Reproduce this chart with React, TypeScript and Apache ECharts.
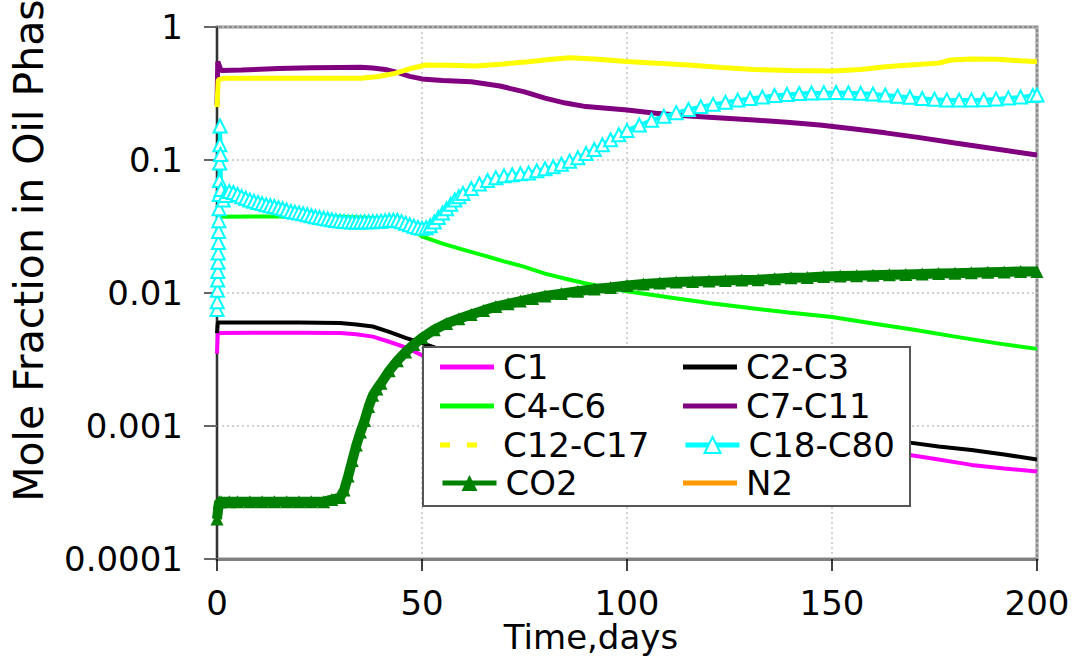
import React, { useEffect, useRef } from "react";
import * as echarts from "echarts";

// ---- data ----
const xTickValues = [0, 50, 100, 150, 200];
const yTickLabels = ["0.0001", "0.001", "0.01", "0.1", "1"];
const seriesNames = ["C1", "C2-C3", "C4-C6", "C7-C11", "C12-C17", "C18-C80", "CO2", "N2"];
const seriesColors = ["#ff00ff", "#000000", "#00ff00", "#800080", "#ffff00", "#00ffff", "#008000", "#ff9900"];

const c1Data = [[0,0.0035],[0.2,0.005],[10,0.00502],[20,0.00502],[30,0.005],[34,0.0049],[38,0.0047],[42,0.0043],[46,0.0039],[50,0.0034],[55,0.003],[60,0.0026],[70,0.002],[80,0.0016],[90,0.0014],[100,0.0012],[120,0.00095],[140,0.0008],[155,0.0007],[169,0.000605],[176,0.00056],[184,0.00051],[192,0.00048],[200,0.000454]];
const c2c3Data = [[0,0.005],[0.2,0.006],[10,0.006],[20,0.006],[30,0.00595],[34,0.0058],[38,0.0056],[42,0.0051],[46,0.0046],[50,0.0042],[60,0.0033],[70,0.0025],[80,0.002],[90,0.0016],[100,0.0014],[120,0.0011],[140,0.00092],[155,0.00083],[169,0.00075],[176,0.0007],[184,0.00066],[192,0.00061],[200,0.00056]];
const c4c6Data = [[0.5,0.0375],[10,0.0376],[20,0.0376],[30,0.0375],[40,0.0365],[44,0.0354],[47,0.031],[50,0.0267],[55,0.0235],[60,0.0212],[65,0.0192],[70,0.0173],[75,0.0157],[80,0.014],[85,0.0128],[90,0.0118],[95,0.011],[100,0.0103],[110,0.0093],[120,0.0084],[130,0.0077],[140,0.0071],[150,0.0066],[160,0.0059],[170,0.0053],[180,0.0047],[190,0.0042],[200,0.0038]];
const c7c11Data = [[0,0.26],[0.2,0.55],[1,0.47],[6,0.475],[15,0.488],[23,0.494],[30,0.497],[35,0.498],[38,0.492],[41,0.479],[44,0.455],[47,0.425],[50,0.407],[55,0.396],[62,0.388],[69,0.36],[75,0.325],[80,0.292],[85,0.268],[90,0.252],[95,0.245],[100,0.238],[107,0.225],[115,0.214],[123,0.207],[131,0.2],[139,0.192],[147,0.183],[155,0.172],[163,0.16],[171,0.148],[180,0.134],[190,0.121],[200,0.109]];
const c12c17Data = [[0,0.25],[0.3,0.4],[1.5,0.411],[10,0.411],[20,0.411],[30,0.411],[35,0.412],[39,0.423],[43,0.445],[47,0.485],[51,0.518],[57,0.515],[63,0.509],[70,0.528],[76,0.548],[81,0.57],[86,0.588],[92,0.575],[100,0.55],[107,0.535],[115,0.517],[123,0.497],[131,0.48],[140,0.47],[150,0.467],[157,0.48],[163,0.503],[170,0.52],[176,0.535],[179,0.565],[184,0.575],[190,0.572],[195,0.56],[200,0.548]];
const c18c80Data = [[0,0.0075],[0.05,0.0086],[0.1,0.0105],[0.15,0.0125],[0.2,0.0145],[0.25,0.017],[0.3,0.02],[0.35,0.024],[0.4,0.029],[0.45,0.035],[0.5,0.043],[0.55,0.055],[0.6,0.07],[0.65,0.095],[0.7,0.13],[0.75,0.18],[0.85,0.11],[1,0.06],[1.5,0.05],[2,0.054],[3,0.058],[4,0.057],[5,0.055],[6,0.053],[7,0.0515],[8,0.05],[9,0.049],[10,0.048],[11,0.047],[12,0.046],[13,0.0453],[14,0.0447],[15,0.0438],[16,0.043],[17,0.042],[18,0.041],[19,0.0405],[20,0.04],[21,0.0394],[22,0.0388],[23,0.0381],[24,0.0375],[25,0.037],[26,0.0365],[27,0.036],[28,0.0355],[29,0.0351],[30,0.0348],[31,0.0345],[32,0.0343],[33,0.0342],[34,0.0342],[35,0.0342],[36,0.0343],[37,0.0343],[38,0.0344],[39,0.0345],[40,0.0347],[41,0.035],[42,0.0352],[43,0.0353],[44,0.0352],[45,0.0344],[46,0.0335],[47,0.0326],[48,0.0318],[49,0.0311],[50,0.0307],[51,0.031],[52,0.032],[53,0.0342],[54,0.037],[55,0.04],[56,0.043],[57,0.0465],[58,0.05],[59,0.053],[60,0.056],[62,0.061],[64,0.066],[66,0.07],[68,0.0735],[70,0.076],[72,0.0775],[74,0.0788],[76,0.08],[78,0.083],[80,0.086],[82,0.089],[84,0.093],[86,0.098],[88,0.104],[90,0.112],[92,0.12],[94,0.13],[96,0.142],[98,0.155],[100,0.167],[103,0.183],[106,0.199],[109,0.213],[112,0.227],[115,0.24],[118,0.252],[121,0.262],[124,0.272],[127,0.282],[130,0.29],[133,0.298],[136,0.305],[139,0.311],[142,0.316],[145,0.319],[148,0.321],[151,0.322],[154,0.32],[157,0.317],[160,0.313],[163,0.308],[166,0.302],[169,0.296],[172,0.29],[175,0.286],[178,0.283],[181,0.282],[184,0.283],[187,0.284],[190,0.288],[193,0.293],[196,0.298],[199,0.305],[200,0.308]];
const co2Data = [[0,0.0002],[0.5,0.00027],[1,0.00027],[3,0.00027],[5,0.00027],[8,0.00027],[11,0.00027],[14,0.00027],[17,0.00027],[20,0.00027],[23,0.00027],[26,0.00027],[28,0.00028],[30,0.00029],[31,0.00033],[32,0.00042],[33,0.00055],[34,0.00072],[35,0.0009],[36,0.0011],[37,0.0014],[38,0.0017],[39,0.0019],[40,0.0021],[42,0.0026],[44,0.0031],[46,0.0036],[48,0.0041],[50,0.0046],[53,0.0053],[56,0.0059],[59,0.0064],[62,0.0069],[65,0.0074],[68,0.0079],[71,0.0083],[74,0.0087],[77,0.0091],[80,0.0095],[84,0.0099],[88,0.0103],[92,0.0107],[96,0.011],[100,0.0114],[104,0.0117],[108,0.0119],[112,0.0121],[116,0.0122],[120,0.0123],[124,0.0124],[128,0.0125],[132,0.0126],[136,0.0128],[140,0.013],[144,0.0131],[148,0.0133],[152,0.0134],[156,0.0135],[160,0.0136],[164,0.0137],[168,0.0138],[172,0.0139],[176,0.014],[180,0.0141],[184,0.0142],[188,0.0143],[192,0.0144],[196,0.0145],[200,0.0145]];
const n2Data: number[][] = [];

const xAxisTitle = "Time,days";
const yAxisTitle = "Mole Fraction in Oil Phase";

const FONT = "'DejaVu Sans', Arial, sans-serif";

export default function App() {
  const ref = useRef<HTMLDivElement>(null);

  useEffect(() => {
    if (!ref.current) return;
    const chart = echarts.init(ref.current, undefined, { renderer: "svg" });

    const dataByName: Record<string, number[][]> = {
      "C1": c1Data,
      "C2-C3": c2c3Data,
      "C4-C6": c4c6Data,
      "C7-C11": c7c11Data,
      "C12-C17": c12c17Data,
      "C18-C80": c18c80Data,
      "CO2": co2Data,
      "N2": n2Data,
    };

    const lineWidths: Record<string, number> = {
      "C1": 4, "C2-C3": 4, "C4-C6": 4, "C7-C11": 5, "C12-C17": 5, "C18-C80": 4, "CO2": 10, "N2": 4,
    };

    const series = seriesNames.map((name, i) => {
      const base: any = {
        type: "line",
        name,
        data: dataByName[name],
        color: seriesColors[i],
        lineStyle: { width: lineWidths[name], color: seriesColors[i] },
        itemStyle: { color: seriesColors[i] },
        symbol: "none",
        showSymbol: false,
        clip: true,
        silent: true,
        z: 3,
        emphasis: { disabled: true },
      };
      if (name === "C18-C80") {
        base.symbol = "emptyTriangle";
        base.showSymbol = true;
        base.symbolSize = 13;
        base.itemStyle = { color: seriesColors[i], borderColor: seriesColors[i], borderWidth: 1.5 };
      }
      if (name === "CO2") {
        base.symbol = "triangle";
        base.showSymbol = true;
        base.symbolSize = 13;
      }
      return base;
    });

    const col1 = ["C1", "C4-C6", "C12-C17", "CO2"];
    const col2 = ["C2-C3", "C7-C11", "C18-C80", "N2"];
    const rowCenters = [367, 406, 445, 483];
    const colLefts = [440, 683];

    const makeLegend = (name: string, left: number, cy: number) => {
      const lg: any = {
        show: true,
        data: [name],
        left,
        top: cy - 17,
        orient: "horizontal",
        padding: 0,
        itemWidth: 54,
        itemHeight: 5,
        selectedMode: false,
        z: 10,
        textStyle: { fontFamily: FONT, fontSize: 34, color: "#000", lineHeight: 34, padding: [0, 0, 0, 4] },
        lineStyle: { width: 5 },
      };
      if (name === "C18-C80" || name === "CO2") {
        lg.itemHeight = 20;
      } else if (name === "C12-C17") {
        lg.icon = "path://M0,0h10v5h-10z M27,0h10v5h-10z M53.9,0h0.1v5h-0.1z";
      } else {
        lg.icon = "rect";
      }
      return lg;
    };

    const legends: any[] = [];
    col1.forEach((n, r) => legends.push(makeLegend(n, colLefts[0], rowCenters[r])));
    col2.forEach((n, r) => legends.push(makeLegend(n, colLefts[1], rowCenters[r])));

    const option: any = {
      animation: false,
      backgroundColor: "#ffffff",
      grid: {
        left: 217,
        right: 40,
        top: 27,
        bottom: 98,
        show: true,
        borderColor: "#8c8c8c",
        borderWidth: 3,
        backgroundColor: "transparent",
        containLabel: false,
        outerBoundsMode: "none",
      },
      xAxis: {
        type: "value",
        min: xTickValues[0],
        max: xTickValues[xTickValues.length - 1],
        interval: xTickValues[1] - xTickValues[0],
        axisLine: { show: true, lineStyle: { color: "#808080", width: 3 } },
        axisTick: { show: true, inside: false, length: 12, lineStyle: { color: "#000", width: 1.5 } },
        axisLabel: {
          show: true, margin: 27, color: "#000", fontFamily: FONT, fontSize: 34, lineHeight: 34,
          showMinLabel: true, showMaxLabel: true,
        },
        splitLine: { show: true, lineStyle: { color: "#c4c4c4", width: 1.5, type: [2, 3] } },
      },
      yAxis: {
        type: "log",
        logBase: 10,
        min: 0.0001,
        max: 1,
        axisLine: { show: true, onZero: false, lineStyle: { color: "#333", width: 2 } },
        axisTick: { show: true, inside: false, length: 13, lineStyle: { color: "#666", width: 2 } },
        axisLabel: {
          show: true, margin: 34, color: "#000", fontFamily: FONT, fontSize: 34,
          padding: [0, 0, 10, 0],
          showMinLabel: true, showMaxLabel: true,
          formatter: (v: number) => {
            const k = Math.round(Math.log10(v)) + 4;
            return yTickLabels[k] ?? "";
          },
        },
        splitLine: { show: true, lineStyle: { color: "#c4c4c4", width: 1.5, type: [2, 3] } },
      },
      legend: legends,
      graphic: [
        {
          type: "rect",
          z: 8,
          shape: { x: 423, y: 347, width: 487, height: 159 },
          style: { fill: "#ffffff", stroke: "#555555", lineWidth: 2 },
          silent: true,
        },
        {
          type: "text",
          x: 591,
          y: 637,
          z: 8,
          style: {
            text: xAxisTitle, fontFamily: FONT, fontSize: 34, fill: "#000",
            align: "center", verticalAlign: "middle",
          },
          silent: true,
        },
        {
          type: "text",
          x: 29,
          y: 238,
          rotation: Math.PI / 2,
          z: 8,
          style: {
            text: yAxisTitle, fontFamily: FONT, fontSize: 41, fill: "#000",
            align: "center", verticalAlign: "middle",
          },
          silent: true,
        },
      ],
      series,
    };

    chart.setOption(option);
    return () => chart.dispose();
  }, []);

  return (
    <div
      ref={ref}
      style={{ position: "fixed", left: 0, top: 0, width: 1077, height: 657, background: "#fff" }}
    />
  );
}
